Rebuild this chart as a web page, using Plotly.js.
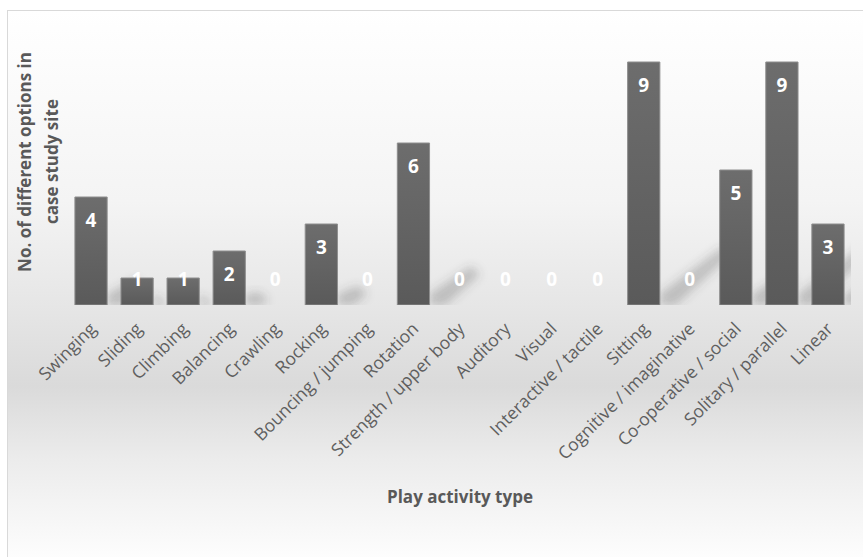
<!DOCTYPE html>
<html>
<head>
<meta charset="utf-8">
<script src="https://cdn.plot.ly/plotly-3.0.1.min.js"></script>
<style>
  html, body { margin: 0; padding: 0; width: 863px; height: 557px; overflow: hidden; background: #ffffff; }
  #frame {
    position: absolute; left: 7px; top: 10px; width: 870px; height: 560px;
    border: 1px solid #d9d9d9; box-sizing: border-box;
    background: linear-gradient(to bottom,
      #ffffff 0px, #f4f4f4 190px, #e6e6e6 295px, #dadada 375px,
      #ececec 450px, #fdfdfd 547px);
  }
  #chart { position: absolute; left: 0; top: 0; width: 863px; height: 557px; }
</style>
</head>
<body>
<div id="frame"></div>
<div id="chart"></div>
<script>
// Play activity types and the number of options found for each
const activities = [
  'Swinging', 'Sliding', 'Climbing', 'Balancing', 'Crawling', 'Rocking',
  'Bouncing / jumping', 'Rotation', 'Strength / upper body', 'Auditory',
  'Visual', 'Interactive / tactile', 'Sitting', 'Cognitive / imaginative',
  'Co-operative / social', 'Solitary / parallel', 'Linear'
];
const optionCounts = [4, 1, 1, 2, 0, 3, 0, 6, 0, 0, 0, 0, 9, 0, 5, 9, 3];

const yTitleLines = ['No. of different options in', 'case study site'];
const xTitle = 'Play activity type';

const BAR_GAP = 0.3;
const HALF_BAR = (1 - BAR_GAP) / 2;

// Value labels sit just inside the top of each bar, but never lower than
// a fixed distance above the baseline (so short and empty bars stay readable).
const labelY = optionCounts.map(v => Math.max(v - 0.93, 0.89));

const bars = {
  type: 'bar',
  x: activities,
  y: optionCounts,
  marker: {
    color: '#636363',
    line: { color: '#8e8e8e', width: optionCounts.map(v => (v > 0 ? 1 : 0)) }
  },
  hoverinfo: 'x+y'
};

const valueLabels = {
  type: 'scatter',
  mode: 'text',
  x: activities,
  y: labelY,
  text: optionCounts.map(String),
  textposition: 'middle center',
  textfont: { family: 'Open Sans', size: 19, color: '#ffffff', weight: 'bold' },
  cliponaxis: false,
  hoverinfo: 'skip'
};

// Soft cast shadows: a band from each bar's lower right corner leaning
// up and to the right, its length growing with the bar's value.
const shadowShapes = [];
optionCounts.forEach((v, i) => {
  if (v <= 0) return;
  const xr = i + HALF_BAR;          // right edge of the bar (category units)
  const dx = 0.15 * v;              // horizontal reach of the shadow
  const dy = 0.24 * v;              // vertical reach of the shadow
  const path = [
    'M', xr, 0.4,
    'L', xr + dx, dy,
    'L', xr + dx + 0.2, dy - 0.3,
    'L', xr + 0.35, 0,
    'L', xr, 0, 'Z'
  ].join(' ');
  shadowShapes.push({
    type: 'path', path: path, xref: 'x', yref: 'y', layer: 'below',
    fillcolor: 'rgba(70,70,70,0.26)', line: { width: 0 }
  });
});

const titleFont = { family: 'Open Sans', size: 17, color: '#595959', weight: 'bold' };

const layout = {
  width: 863,
  height: 557,
  margin: { l: 68, r: 12, t: 35, b: 252 },
  paper_bgcolor: 'rgba(0,0,0,0)',
  plot_bgcolor: 'rgba(0,0,0,0)',
  showlegend: false,
  bargap: BAR_GAP,
  font: { family: 'Open Sans', color: '#595959' },
  xaxis: {
    type: 'category',
    range: [-0.5, activities.length - 0.5],
    automargin: false,
    tickangle: -45,
    ticklabelstandoff: 9,
    tickfont: { family: 'Open Sans', size: 17.5, color: '#5f5f5f' },
    showline: false,
    showgrid: false,
    zeroline: false,
    ticks: ''
  },
  yaxis: {
    range: [0, 10],
    automargin: false,
    showticklabels: false,
    showgrid: false,
    zeroline: false,
    showline: false,
    ticks: ''
  },
  shapes: shadowShapes,
  annotations: [
    {
      text: yTitleLines[0], textangle: -90, font: titleFont,
      xref: 'paper', yref: 'paper', x: 0, y: 0.53,
      xanchor: 'center', yanchor: 'middle', xshift: -43, showarrow: false
    },
    {
      text: yTitleLines[1], textangle: -90, font: titleFont,
      xref: 'paper', yref: 'paper', x: 0, y: 0.53,
      xanchor: 'center', yanchor: 'middle', xshift: -16, showarrow: false
    },
    {
      text: xTitle, font: titleFont,
      xref: 'paper', yref: 'paper', x: 0.5, y: 0,
      xanchor: 'center', yanchor: 'middle', yshift: -191, showarrow: false
    }
  ]
};

Plotly.newPlot('chart', [bars, valueLabels], layout, { displayModeBar: false, staticPlot: true })
  .then(gd => {
    const NS = 'http://www.w3.org/2000/svg';
    const defs = gd.querySelector('svg.main-svg defs');

    // blur for the cast shadows
    const filter = document.createElementNS(NS, 'filter');
    filter.setAttribute('id', 'shadowSoften');
    filter.setAttribute('x', '-50%');
    filter.setAttribute('y', '-50%');
    filter.setAttribute('width', '200%');
    filter.setAttribute('height', '200%');
    const blur = document.createElementNS(NS, 'feGaussianBlur');
    blur.setAttribute('stdDeviation', '5');
    filter.appendChild(blur);
    defs.appendChild(filter);

    // subtle top-to-bottom shading on the bars
    const grad = document.createElementNS(NS, 'linearGradient');
    grad.setAttribute('id', 'barShade');
    grad.setAttribute('x1', '0'); grad.setAttribute('y1', '0');
    grad.setAttribute('x2', '0'); grad.setAttribute('y2', '1');
    [['0', '#6d6d6d'], ['1', '#5a5a5a']].forEach(([off, col]) => {
      const stop = document.createElementNS(NS, 'stop');
      stop.setAttribute('offset', off);
      stop.setAttribute('stop-color', col);
      grad.appendChild(stop);
    });
    defs.appendChild(grad);

    gd.querySelectorAll('.shapelayer path').forEach(p => p.setAttribute('filter', 'url(#shadowSoften)'));
    gd.querySelectorAll('.barlayer .point path').forEach(p => { p.style.fill = 'url(#barShade)'; });
  });
</script>
</body>
</html>
